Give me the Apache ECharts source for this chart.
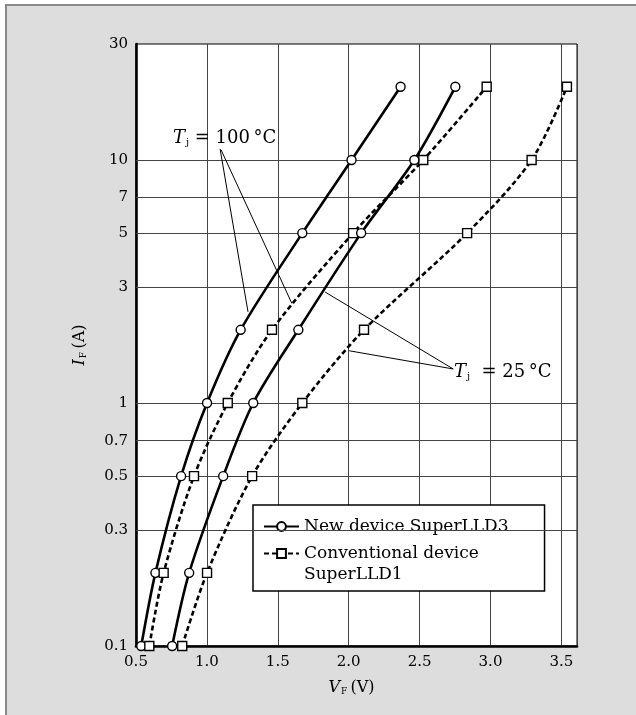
<!DOCTYPE html>
<html><head><meta charset="utf-8">
<script src="https://cdn.jsdelivr.net/npm/echarts@6/dist/echarts.min.js"></script>
<style>html,body{margin:0;padding:0;background:#fff}#c{width:636px;height:715px}</style>
</head><body><div id="c"></div>
<script>
// forward current levels (A)
var currentLevels = [0.1, 0.2, 0.5, 1, 2, 5, 10, 20];
// forward voltage (V) at each current level
var vNew100  = [0.537, 0.637, 0.818, 1.001, 1.238, 1.673, 2.020, 2.366];
var vConv100 = [0.594, 0.695, 0.909, 1.147, 1.459, 2.031, 2.526, 2.973];
var vNew25   = [0.755, 0.875, 1.115, 1.327, 1.645, 2.088, 2.463, 2.752];
var vConv25  = [0.826, 1.001, 1.319, 1.673, 2.108, 2.835, 3.290, 3.539];
// y tick labels (log axis)
var yTicks = [0.1, 0.3, 0.5, 0.7, 1, 3, 5, 7, 10, 30];
var yGrid = [0.3, 0.5, 0.7, 1, 3, 5, 7, 10];
var legendNew = 'New device SuperLLD3';
var legendConv = 'Conventional device\nSuperLLD1';

var FONT = 'DejaVu Serif';
var Y_MIN = 0.1, Y_MAX = 30;
function pairs(v){ return v.map(function(x,i){ return [x, currentLevels[i]]; }); }

var chart = echarts.init(document.getElementById('c'), null, {renderer:'canvas'});

var tickMarkLines = yTicks.map(function(t){
  var isGrid = yGrid.indexOf(t) >= 0;
  // nudge the edge ticks just inside the axis extent so they are not filtered out
  var pos = t <= Y_MIN ? t * 1.001 : (t >= Y_MAX ? t * 0.999 : t);
  return {yAxis: pos, label:{formatter: String(t), color:'#000'},
          lineStyle: isGrid ? {} : {color:'rgba(0,0,0,0)'}};
});

var subRich = {
  t: {fontFamily: FONT, fontStyle:'italic', fontSize: 18, color:'#000'},
  s: {fontFamily: FONT, fontSize: 10, color:'#000', padding:[9,0,0,1]},
  n: {fontFamily: FONT, fontSize: 18, color:'#000'}
};
var axRich = {
  t: {fontFamily: FONT, fontStyle:'italic', fontSize: 16, color:'#000'},
  s: {fontFamily: FONT, fontSize: 9, color:'#000', padding:[8,0,0,1]},
  n: {fontFamily: FONT, fontSize: 16, color:'#000'}
};

function dataSeries(name, v, dashed, symbol){
  return {
    type:'line', name: name, data: pairs(v), smooth: 0.3,
    symbol: symbol, symbolSize: 9, showSymbol: true, z: 5,
    lineStyle: {color:'#000', width: 2.6, type: dashed ? [5,3] : 'solid'},
    itemStyle: {color:'#fff', borderColor:'#000', borderWidth:1.4},
    emphasis: {disabled: true}
  };
}

var option = {
  backgroundColor: '#fff',
  animation: false,
  graphic: {elements:[
    {type:'rect', z:-10, shape:{x:6, y:5, width:700, height:800},
     style:{fill:'#dcdddc', stroke:'#8a8a8a', lineWidth:2}}
  ]},
  grid: {left:136, right:59, top:44, bottom:69, show:true, backgroundColor:'#fff', borderColor:'#000', borderWidth:1},
  legend: {
    left: 253, top: 505, orient:'vertical',
    backgroundColor:'#fff', borderColor:'#000', borderWidth:1.5, borderRadius:0,
    padding:[11, 36, 6, 10], itemGap: -15, itemWidth: 35, itemHeight: 11,
    textStyle:{fontFamily: FONT, fontSize:17, color:'#000', lineHeight:21},
    selectedMode: false,
    formatter: function(name){ return name === legendConv ? '\n' + name : name; },
    data: [ {name: legendNew}, {name: legendConv} ]
  },
  xAxis: {
    type:'value', min:0.5, max:3.61, interval:0.5,
    name: '{t|V}{s|F} {n|(V)}', nameLocation:'middle', nameGap: 33,
    nameTextStyle:{rich: axRich, padding:[0,10,0,0]},
    axisLine:{show:true, onZero:false, lineStyle:{color:'#000', width:2.6}},
    axisTick:{show:false},
    axisLabel:{fontFamily:FONT, fontSize:15, color:'#000', margin:9, showMaxLabel:false,
      formatter:function(v){ return v.toFixed(1); }},
    splitLine:{show:true, lineStyle:{color:'#444', width:1}}
  },
  yAxis: {
    type:'log', logBase:10, min:Y_MIN, max:Y_MAX,
    name: '{t|I}{s|F} {n|(A)}', nameLocation:'middle', nameGap: 48, nameRotate: 90,
    nameTextStyle:{rich: axRich},
    axisLine:{show:true, onZero:false, lineStyle:{color:'#000', width:2.6}},
    axisTick:{show:false}, axisLabel:{show:false}, splitLine:{show:false}
  },
  series: [
    {
      type:'line', data:[], z:1, silent:true, symbol:'none',
      markLine: {
        silent:true, symbol:['none','none'], animation:false,
        lineStyle:{color:'#444', width:1, type:'solid'},
        label:{show:true, position:'start', distance:8, fontFamily:FONT, fontSize:15, color:'#000'},
        emphasis:{disabled:true},
        data: tickMarkLines
      }
    },
    {
      type:'line', data:[], z:2, silent:true, symbol:'none',
      markLine: {
        silent:true, symbol:['none','none'], animation:false,
        lineStyle:{color:'#000', width:1, type:'solid'},
        label:{show:false}, emphasis:{disabled:true},
        data: [
          [{coord:[1.093, 11.1]}, {coord:[1.290, 2.37]}],
          [{coord:[1.100, 11.0]}, {coord:[1.599, 2.57]}],
          [{coord:[2.737, 1.38]}, {coord:[1.834, 2.86]}],
          [{coord:[2.737, 1.38]}, {coord:[2.003, 1.64]}]
        ]
      },
      markPoint: {
        silent:true, symbol:'circle', symbolSize:0, animation:false,
        label:{show:true, position:'inside', rich: subRich},
        data: [
          {coord:[1.1246, 12.3], label:{formatter:'{t|T}{s|j}{n| = 100\u2009°C}'}},
          {coord:[3.0865, 1.341], label:{formatter:'{t|T}{s|j}{n|  = 25\u2009°C}'}}
        ]
      }
    },
    dataSeries(legendNew, vNew100, false, 'circle'),
    dataSeries(legendConv, vConv100, true, 'rect'),
    dataSeries(legendNew, vNew25, false, 'circle'),
    dataSeries(legendConv, vConv25, true, 'rect')
  ]
};
chart.setOption(option);
</script></body></html>
